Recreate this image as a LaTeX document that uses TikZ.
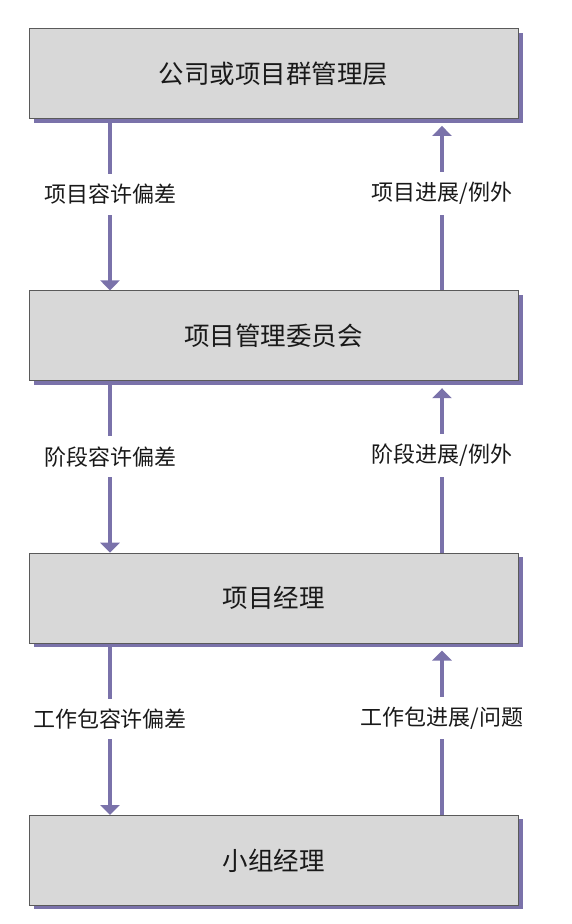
\documentclass[tikz,border=0pt]{standalone}
\usepackage{fontspec}
\setmainfont{Noto Sans CJK SC}
\usetikzlibrary{arrows.meta,positioning,shadows}
\definecolor{LevelGray}{HTML}{D8D8D8}
\definecolor{LevelEdge}{HTML}{5A5A5A}
\definecolor{LinkPurple}{HTML}{7A72AA}
\tikzset{
  >={Triangle[width=19pt,length=10pt]},
  level/.style={rectangle, draw=LevelEdge, line width=0.8pt, fill=LevelGray,
    minimum width=489pt, minimum height=90pt, inner sep=0pt,
    text=black!90, font=\fontsize{25.5}{30}\selectfont,
    drop shadow={shadow xshift=5pt, shadow yshift=-4pt, fill=LinkPurple, opacity=1}},
  tol/.style={fill=white, inner xsep=2pt, inner ysep=10pt,
    text=black!90, font=\fontsize{22}{26}\selectfont},
  flow/.style={draw=LinkPurple, ->, line width=4.5pt}
}

\begin{document}
\begin{tikzpicture}[node distance=171.5pt]

\useasboundingbox (0,0) rectangle (572pt,-924pt);

\node[level] (corp) at (273.5pt,-73.5pt) {公司或项目群管理层};
\node[level, below=of corp] (board) {项目管理委员会};
\node[level, below=of board] (pm) {项目经理};
\node[level, below=of pm] (team) {小组经理};

\draw[flow] ([xshift=-163.5pt]corp.south) -- node[tol, pos=0.44] {项目容许偏差} ([xshift=-163.5pt]board.north);
\draw[flow] ([xshift=168.5pt]board.north) -- node[tol, pos=0.59] {项目进展/例外} ([xshift=168.5pt, yshift=-7pt]corp.south);

\draw[flow] ([xshift=-163.5pt]board.south) -- node[tol, pos=0.44] {阶段容许偏差} ([xshift=-163.5pt]pm.north);
\draw[flow] ([xshift=168.5pt]pm.north) -- node[tol, pos=0.59] {阶段进展/例外} ([xshift=168.5pt, yshift=-7pt]board.south);

\draw[flow] ([xshift=-163.5pt]pm.south) -- node[tol, pos=0.44] {工作包容许偏差} ([xshift=-163.5pt]team.north);
\draw[flow] ([xshift=168.5pt]team.north) -- node[tol, pos=0.59] {工作包进展/问题} ([xshift=168.5pt, yshift=-7pt]pm.south);

\end{tikzpicture}
\end{document}
